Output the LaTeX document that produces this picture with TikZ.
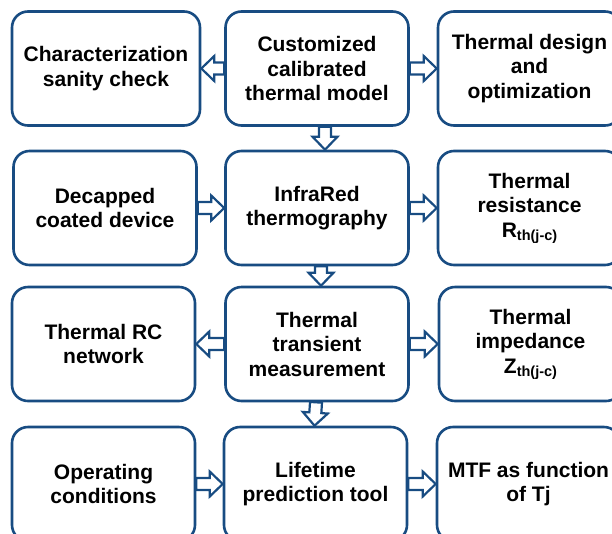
\documentclass[tikz,border=0pt]{standalone}
\usepackage{fontspec}
\setmainfont{Liberation Sans}
\usetikzlibrary{calc}
\definecolor{frame}{RGB}{24,76,130}
\newcommand\subth[1]{\raisebox{-3pt}{\fontsize{14.5}{14.5}\selectfont #1}}
\tikzset{
  box/.style={draw=frame, line width=2.6pt, rounded corners=16pt, fill=white,
    minimum width=183pt, minimum height=114pt, inner sep=0pt, align=center,
    text=black, font=\bfseries\fontsize{21}{24.5}\selectfont},
  % outlined block arrow from the start point to the target point
  fatarrow/.style={draw=frame, line width=2.2pt, line join=miter,
    to path={
      ($(\tikztotarget)!13pt!(\tikztostart)$) coordinate (fathead)
      ($(\tikztostart)!6pt!90:(\tikztotarget)$)
      -- ($(fathead)!6pt!90:(\tikztotarget)$)
      -- ($(fathead)!12.5pt!90:(\tikztotarget)$)
      -- (\tikztotarget)
      -- ($(fathead)!12.5pt!-90:(\tikztotarget)$)
      -- ($(fathead)!6pt!-90:(\tikztotarget)$)
      -- ($(\tikztostart)!6pt!-90:(\tikztotarget)$) -- cycle}}
}
\begin{document}
\begin{tikzpicture}[x=1pt, y=-1pt]
\useasboundingbox (0,0) rectangle (612,533);
\clip (0,0) rectangle (612,533);

% row 1
\node[box, minimum width=188pt] (l1) at (106,68.5) {Characterization\\sanity check};
\node[box] (m1) at (317,68.5) {Customized\\calibrated\\thermal model};
\node[box] (r1) at (529.5,68.5) {Thermal design\\and\\optimization};
% row 2
\node[box] (l2) at (105,208) {Decapped\\coated device};
\node[box] (m2) at (317,208) {InfraRed\\thermography};
\node[box] (r2) at (529.5,208) {Thermal\\resistance\\R\subth{th(j-c)}};
% row 3
\node[box] (l3) at (103.5,344) {Thermal RC\\network};
\node[box] (m3) at (317,344) {Thermal\\transient\\measurement};
\node[box] (r3) at (530.5,344) {Thermal\\impedance\\Z\subth{th(j-c)}};
% row 4
\node[box] (l4) at (103.5,484) {Operating\\conditions};
\node[box] (m4) at (315.5,484) {Lifetime\\prediction tool};
\node[box] (r4) at (528.5,484) {MTF as function\\of Tj};

% horizontal links
\draw[fatarrow] (m1.west) to (l1.east);
\draw[fatarrow] (m1.east) to (r1.west);
\draw[fatarrow] (l2.east) to (m2.west);
\draw[fatarrow] (m2.east) to (r2.west);
\draw[fatarrow] (m3.west) to (l3.east);
\draw[fatarrow] (m3.east) to (r3.west);
\draw[fatarrow] (l4.east) to (m4.west);
\draw[fatarrow] (m4.east) to (r4.west);

% vertical links down the middle column
\draw[fatarrow] ([xshift=8pt]m1.south) to ([xshift=8pt]m2.north);
\draw[fatarrow] ([xshift=4pt]m2.south) to ([xshift=4pt]m3.north);
\draw[fatarrow] ([xshift=-1pt]m3.south) to ([xshift=-1pt]m4.north);
\end{tikzpicture}
\end{document}
